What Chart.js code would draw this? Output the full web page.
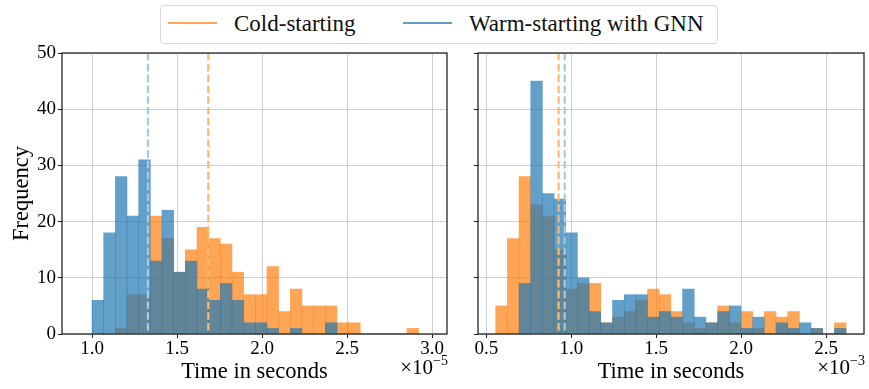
<!DOCTYPE html>
<html>
<head>
<meta charset="utf-8">
<script src="https://cdn.jsdelivr.net/npm/chart.js@4.4.0/dist/chart.umd.min.js"></script>
<style>
  body { margin: 0; background: #fff; width: 869px; height: 389px; position: relative; overflow: hidden; }
  canvas { position: absolute; top: 0; }
  #left { left: 0; }
  #right { left: 455px; }
  #legend {
    position: absolute; left: 160px; top: 5px; width: 558px; height: 39px;
    box-sizing: border-box; border: 1px solid #d9d9d9; border-radius: 4px; background: #fff;
    font-family: 'Liberation Serif', serif; font-size: 23px; color: #111;
  }
  #legend .sw { position: absolute; top: 16px; width: 49px; height: 2px; }
  #legend .lab { position: absolute; top: 0; line-height: 36px; white-space: nowrap; }
</style>
</head>
<body>
<div id="legend">
  <span class="sw" style="left:7px;background:#ffa556"></span>
  <span class="lab" style="left:73px">Cold-starting</span>
  <span class="sw" style="left:242px;background:#62a0ca"></span>
  <span class="lab" style="left:308px">Warm-starting with GNN</span>
</div>
<canvas id="left" width="455" height="389"></canvas>
<canvas id="right" width="414" height="389"></canvas>
<script>
// histogram counts per bin (common bins for both series in a panel)
// left panel: x in units of 1e-5 s
const binStartLeft = 1.0;
const binWidthLeft = 0.0686;
const coldLeft = [0, 0, 1, 7, 7, 21, 17, 11, 15, 19, 17, 16, 11, 7, 7, 12, 4, 8, 5, 5, 5, 2, 2, 0, 0, 0, 0, 1];
const warmLeft = [6, 18, 28, 21, 31, 13, 22, 11, 13, 8, 6, 9, 6, 2, 2, 1, 0, 1, 0, 0, 2, 0, 0, 0, 0, 0, 0, 0];
const meanColdLeft = 1.684;
const meanWarmLeft = 1.329;
const xTicksLeft = [1.0, 1.5, 2.0, 2.5, 3.0];

// right panel: x in units of 1e-3 s
const binStartRight = 0.5547;
const binWidthRight = 0.06878;
const coldRight = [5, 17, 28, 23, 21, 15, 8, 9, 9, 2, 3, 4, 6, 8, 7, 4, 2, 1, 2, 5, 2, 4, 1, 4, 3, 4, 0, 1, 0, 2];
const warmRight = [0, 0, 9, 45, 25, 24, 18, 10, 4, 2, 6, 7, 7, 3, 4, 3, 8, 3, 2, 4, 5, 1, 3, 0, 2, 1, 2, 1, 0, 1];
const meanColdRight = 0.925;
const meanWarmRight = 0.961;
const xTicksRight = [0.5, 1.0, 1.5, 2.0, 2.5];

const yTicks = [0, 10, 20, 30, 40, 50];

const FONT = "'Liberation Serif', 'DejaVu Serif', serif";
const COLD = 'rgba(255,127,14,0.7)';
const WARM = 'rgba(31,119,180,0.7)';
const COLD_MEAN = '#fdb96b';
const WARM_MEAN = '#a3cbe3';
const GRID = 'rgba(176,176,176,0.6)';

function toBins(counts, start, width) {
  return counts.map(function (c, i) {
    return { x: start + (i + 0.5) * width, y: c };
  });
}

// mean lines, frame and the x10^n offset label
const overlay = {
  id: 'overlay',
  afterDraw: function (chart, args, o) {
    const ctx = chart.ctx;
    const a = chart.chartArea;
    const x = chart.scales.x;
    ctx.save();
    ctx.beginPath();
    ctx.rect(a.left, a.top, a.right - a.left, a.bottom - a.top);
    ctx.clip();
    ctx.setLineDash([7.6, 3.2]);
    ctx.lineWidth = 2.2;
    [[o.meanWarm, WARM_MEAN], [o.meanCold, COLD_MEAN]].forEach(function (m) {
      const px = x.getPixelForValue(m[0]);
      ctx.strokeStyle = m[1];
      ctx.beginPath();
      ctx.moveTo(px, a.top);
      ctx.lineTo(px, a.bottom);
      ctx.stroke();
    });
    ctx.restore();

    ctx.save();
    ctx.strokeStyle = '#262626';
    ctx.lineWidth = 1.3;
    ctx.strokeRect(a.left, a.top, a.right - a.left, a.bottom - a.top);
    ctx.restore();

    ctx.save();
    ctx.fillStyle = '#000';
    ctx.textAlign = 'right';
    ctx.textBaseline = 'alphabetic';
    ctx.font = '14px ' + FONT;
    ctx.fillText(o.exp, a.right + 1, a.bottom + 31);
    const w = ctx.measureText(o.exp).width;
    ctx.font = '21px ' + FONT;
    ctx.fillText('\u00d710', a.right + 1 - w, a.bottom + 40);
    ctx.restore();
  }
};

function makePanel(id, p) {
  return new Chart(document.getElementById(id), {
    type: 'bar',
    data: {
      datasets: [
        { label: 'Warm-starting with GNN', data: toBins(p.warm, p.start, p.width), backgroundColor: WARM, order: 0 },
        { label: 'Cold-starting', data: toBins(p.cold, p.start, p.width), backgroundColor: COLD, order: 1 }
      ]
    },
    options: {
      responsive: false,
      animation: false,
      layout: { padding: { top: 53, right: p.padRight, left: 0, bottom: 0 } },
      datasets: { bar: { grouped: false, barPercentage: 1, categoryPercentage: 1, borderWidth: 0, inflateAmount: 0.3 } },
      plugins: {
        legend: { display: false },
        tooltip: { enabled: false },
        overlay: { meanCold: p.meanCold, meanWarm: p.meanWarm, exp: p.exp }
      },
      scales: {
        x: {
          type: 'linear',
          min: p.xmin,
          max: p.xmax,
          offset: false,
          z: 1,
          afterBuildTicks: function (s) { s.ticks = p.xTicks.map(function (v) { return { value: v }; }); },
          afterFit: function (s) { s.height = 55; },
          border: { display: false },
          grid: { offset: false, color: GRID, lineWidth: 1, tickColor: '#222', tickLength: 4 },
          ticks: {
            autoSkip: false, maxRotation: 0, padding: 0, color: '#000',
            font: { family: FONT, size: 19 },
            callback: function (v) { return Number(v).toFixed(1); }
          },
          title: {
            display: true, text: 'Time in seconds', color: '#000',
            font: { family: FONT, size: 22.5 }, padding: { top: 0, bottom: 3 }
          }
        },
        y: {
          min: 0,
          max: 50,
          z: 1,
          afterBuildTicks: function (s) { s.ticks = yTicks.map(function (v) { return { value: v }; }); },
          afterFit: function (s) { s.width = p.yWidth; },
          border: { display: false },
          grid: { color: GRID, lineWidth: 1, tickColor: '#222', tickLength: 4 },
          ticks: {
            display: p.showY, padding: 2, color: '#000',
            font: { family: FONT, size: 19 }
          },
          title: {
            display: p.showY, text: 'Frequency', color: '#000',
            font: { family: FONT, size: 22.5 }, padding: { top: 9, bottom: 0 }
          }
        }
      }
    },
    plugins: [overlay]
  });
}

makePanel('left', {
  cold: coldLeft, warm: warmLeft, start: binStartLeft, width: binWidthLeft,
  meanCold: meanColdLeft, meanWarm: meanWarmLeft, xTicks: xTicksLeft,
  xmin: 0.8235, xmax: 3.088, padRight: 8, yWidth: 62, showY: true, exp: '\u22125'
});

makePanel('right', {
  cold: coldRight, warm: warmRight, start: binStartRight, width: binWidthRight,
  meanCold: meanColdRight, meanWarm: meanWarmRight, xTicks: xTicksRight,
  xmin: 0.4506, xmax: 2.7235, padRight: 5, yWidth: 23, showY: false, exp: '\u22123'
});
</script>
</body>
</html>
